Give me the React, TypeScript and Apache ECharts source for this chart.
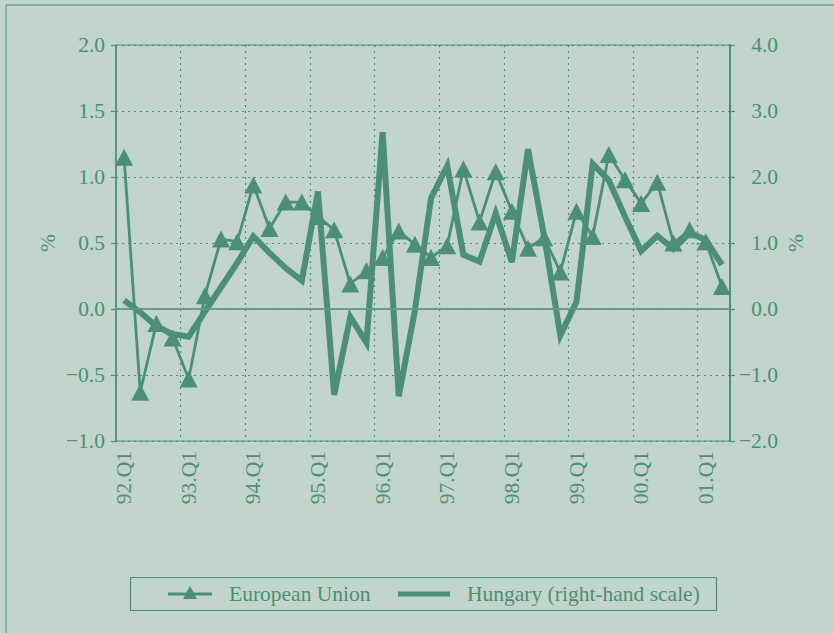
import React, { useEffect, useRef } from "react";
import * as echarts from "echarts";

const years = ["92", "93", "94", "95", "96", "97", "98", "99", "00", "01"];
const quarters = ["Q1", "Q2", "Q3", "Q4"];
const categories: string[] = [];
years.forEach((y) => quarters.forEach((q) => categories.push(`${y}.${q}`)));
categories.splice(38);

const euValues = [
  1.15, -0.63, -0.11, -0.22, -0.53, 0.1, 0.53, 0.51, 0.94, 0.61, 0.81, 0.81,
  0.7, 0.6, 0.19, 0.29, 0.39, 0.59, 0.49, 0.39, 0.48, 1.06, 0.66, 1.04, 0.74,
  0.46, 0.54, 0.28, 0.74, 0.55, 1.17, 0.98, 0.8, 0.96, 0.5, 0.6, 0.51, 0.17,
];

const huValues = [
  0.13, -0.05, -0.26, -0.38, -0.42, -0.04, 0.33, 0.7, 1.1, 0.85, 0.62, 0.43,
  1.78, -1.3, -0.12, -0.51, 2.68, -1.32, -0.02, 1.68, 2.17, 0.82, 0.72, 1.45,
  0.71, 2.42, 1.1, -0.4, 0.11, 2.2, 1.95, 1.4, 0.88, 1.11, 0.91, 1.15, 1.05,
  0.67,
];

const seriesNames = ["European Union", "Hungary (right-hand scale)"];
const axisUnit = "%";

const GREEN = "#4d8f72";
const BG = "#c1d5cb";
const FONT = "'Liberation Serif', 'Times New Roman', serif";
const FS = 21.5;

const fmt = (v: number, d: number) => v.toFixed(d).replace("-", "\u2212");

export default function App() {
  const ref = useRef<HTMLDivElement>(null);
  useEffect(() => {
    if (!ref.current) return;
    const chart = echarts.init(ref.current, undefined, { renderer: "svg" });
    const dotted = { color: GREEN, width: 1.2, type: [2, 4] as number[] };
    chart.setOption({
      animation: false,
      backgroundColor: BG,
      textStyle: { fontFamily: FONT, color: GREEN },
      grid: {
        left: 116,
        right: 104,
        top: 45,
        bottom: 192,
        show: true,
        borderColor: GREEN,
        borderWidth: 1,
      },
      xAxis: {
        type: "category",
        data: categories,
        boundaryGap: true,
        axisLine: { show: true, lineStyle: { color: GREEN, width: 1.5 } },
        axisTick: { show: false },
        axisLabel: {
          interval: 3,
          rotate: 90,
          margin: 10,
          fontSize: FS,
          fontFamily: FONT,
          color: GREEN,
        },
        splitLine: {
          show: true,
          interval: (i: number) => i % 4 === 0 && i > 0,
          lineStyle: dotted,
        },
      },
      yAxis: [
        {
          type: "value",
          min: -1,
          max: 2,
          interval: 0.5,
          position: "left",
          axisLine: { show: true, lineStyle: { color: GREEN, width: 1.5 } },
          axisTick: { show: true, length: 5, lineStyle: { color: GREEN, width: 1.2 } },
          axisLabel: {
            margin: 11,
            fontSize: FS,
            fontFamily: FONT,
            color: GREEN,
            formatter: (v: number) => fmt(v, 1),
          },
          splitLine: { show: true, lineStyle: dotted },
        },
        {
          type: "value",
          min: -2,
          max: 4,
          interval: 1,
          position: "right",
          axisLine: { show: true, lineStyle: { color: GREEN, width: 2 } },
          axisTick: { show: true, length: 5, lineStyle: { color: GREEN, width: 1.2 } },
          axisLabel: {
            margin: 48,
            align: "right",
            fontSize: FS,
            fontFamily: FONT,
            color: GREEN,
            formatter: (v: number) => fmt(v, 1),
          },
          splitLine: { show: false },
        },
      ],
      series: [
        {
          name: seriesNames[1],
          type: "line",
          yAxisIndex: 1,
          data: huValues,
          symbol: "none",
          lineStyle: { color: GREEN, width: 6, join: "miter" },
          itemStyle: { color: GREEN },
          z: 3,
        },
        {
          name: seriesNames[0],
          type: "line",
          yAxisIndex: 0,
          data: euValues,
          symbol: "triangle",
          symbolSize: [18, 17],
          showSymbol: true,
          showAllSymbol: true,
          lineStyle: { color: GREEN, width: 2.8 },
          itemStyle: { color: GREEN },
          z: 4,
          markLine: {
            silent: true,
            symbol: "none",
            label: { show: false },
            lineStyle: { color: "#6a9e86", width: 1.6, type: "solid" },
            data: [{ yAxis: 0 }],
          },
        },
      ],
      graphic: [
        {
          type: "rect",
          shape: { x: 6, y: 5, width: 1000, height: 1000 },
          style: { fill: "none", stroke: GREEN, lineWidth: 1 },
          silent: true,
        },
        {
          type: "text",
          x: 48,
          y: 243,
          rotation: Math.PI / 2,
          style: {
            text: axisUnit,
            fill: GREEN,
            font: `${FS}px ${FONT}`,
            align: "center",
            verticalAlign: "middle",
          },
        },
        {
          type: "text",
          x: 796,
          y: 243,
          rotation: Math.PI / 2,
          style: {
            text: axisUnit,
            fill: GREEN,
            font: `${FS}px ${FONT}`,
            align: "center",
            verticalAlign: "middle",
          },
        },
        {
          type: "rect",
          shape: { x: 130.5, y: 577.5, width: 586, height: 33 },
          style: { fill: "none", stroke: GREEN, lineWidth: 1.2 },
        },
        {
          type: "line",
          shape: { x1: 168, y1: 594, x2: 212, y2: 594 },
          style: { stroke: GREEN, lineWidth: 2.8 },
        },
        {
          type: "polygon",
          shape: { points: [[190, 586], [183, 599], [197, 599]] },
          style: { fill: GREEN },
        },
        {
          type: "text",
          x: 229,
          y: 594,
          style: {
            text: seriesNames[0],
            fill: GREEN,
            font: `${FS}px ${FONT}`,
            align: "left",
            verticalAlign: "middle",
          },
        },
        {
          type: "line",
          shape: { x1: 398, y1: 594, x2: 450, y2: 594 },
          style: { stroke: GREEN, lineWidth: 5 },
        },
        {
          type: "text",
          x: 467,
          y: 594,
          style: {
            text: seriesNames[1],
            fill: GREEN,
            font: `${FS}px ${FONT}`,
            align: "left",
            verticalAlign: "middle",
          },
        },
      ],
    });
    return () => chart.dispose();
  }, []);
  return (
    <div
      ref={ref}
      style={{ position: "fixed", left: 0, top: 0, width: 834, height: 633 }}
    />
  );
}
